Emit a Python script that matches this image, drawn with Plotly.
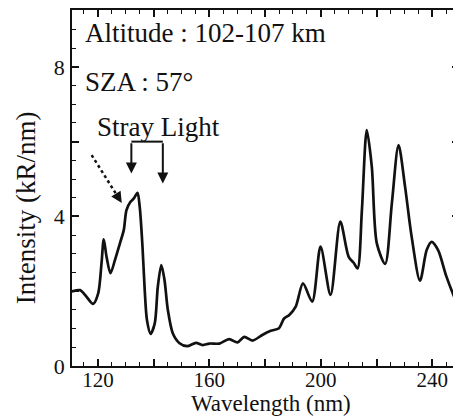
import plotly.graph_objects as go

# Spectrum values
wavelength = [110.6, 113.6, 115.4, 118.3, 120.1, 121.3, 122.1, 123.1, 124.5, 126.1,
              127.9, 129.3, 130.25, 131.7, 132.9, 134.2, 135.0, 136.0, 136.8, 137.6,
              138.9, 140.4, 141.5, 142.75, 143.9, 145.1, 146.9, 149.3, 152.0, 155.2,
              157.6, 160.0, 163.6, 167.1, 170.1, 172.5, 175.5, 179.0, 182.0, 185.0,
              186.8, 188.6, 191.0, 193.6, 196.9, 199.9, 203.5, 207.0, 210.0, 211.8,
              213.2, 214.75, 216.5, 218.3, 220.1, 223.1, 225.5, 227.9, 230.25, 232.6,
              235.6, 238.0, 239.75, 242.1, 245.1, 248.7, 249.6]
intensity = [1.99, 2.03, 1.90, 1.66, 1.94, 2.75, 3.39, 2.92, 2.48, 2.83,
             3.28, 3.64, 4.17, 4.39, 4.48, 4.63, 4.26, 3.19, 2.03, 1.23,
             0.86, 1.14, 2.12, 2.70, 2.30, 1.50, 0.87, 0.61, 0.53, 0.62,
             0.56, 0.60, 0.60, 0.72, 0.63, 0.78, 0.68, 0.83, 0.94, 1.01,
             1.27, 1.36, 1.59, 2.21, 1.72, 3.19, 1.90, 3.86, 2.92, 2.76,
             2.61, 4.17, 6.31, 5.33, 3.28, 2.73, 4.35, 5.91, 4.79, 3.46,
             2.28, 3.10, 3.32, 3.10, 2.39, 1.72, 1.62]

x_tickvals = [120, 140, 160, 180, 200, 220, 240]
x_ticktext = ["120", "", "160", "", "200", "", "240"]
y_tickvals = [0, 2, 4, 6, 8]
y_ticktext = ["0", "", "4", "", "8"]

FONT = "Liberation Serif"
INK = "#111111"

fig = go.Figure()
fig.add_trace(go.Scatter(
    x=wavelength, y=intensity, mode="lines",
    line=dict(color=INK, width=2.7, shape="spline", smoothing=0.8),
    hoverinfo="skip", showlegend=False,
))

axis_common = dict(
    showline=True, linecolor=INK, linewidth=1.5, mirror="ticks",
    ticks="inside", ticklen=7, tickwidth=1.5, tickcolor=INK,
    showgrid=False, zeroline=False,
)

fig.update_xaxes(range=[110.7, 249.6], tickmode="array", tickvals=x_tickvals,
                 ticktext=x_ticktext, ticklabelstandoff=-6,
                 tickfont=dict(family=FONT, size=21, color=INK),
                 minor=dict(dtick=5, ticks="inside", ticklen=4, tickwidth=1.2, tickcolor=INK),
                 **axis_common)
fig.update_yaxes(range=[0, 9.52], tickmode="array", tickvals=y_tickvals,
                 ticktext=y_ticktext, ticklabelstandoff=1,
                 tickfont=dict(family=FONT, size=22, color=INK),
                 minor=dict(dtick=0.5, ticks="inside", ticklen=4, tickwidth=1.2, tickcolor=INK),
                 **axis_common)

text_font = dict(family=FONT, size=27, color=INK)
annotations = [
    dict(text="Altitude : 102-107 km", xref="paper", yref="paper", x=0.028, y=0.934,
         xanchor="left", yanchor="middle", showarrow=False, font=text_font),
    dict(text="SZA : 57°", xref="paper", yref="paper", x=0.028, y=0.798,
         xanchor="left", yanchor="middle", showarrow=False, font=text_font),
    dict(text="Stray Light", xref="paper", yref="paper", x=0.059, y=0.671,
         xanchor="left", yanchor="middle", showarrow=False, font=text_font),
    dict(text="Wavelength (nm)", xref="paper", yref="paper", x=0.514, y=-0.104,
         xanchor="center", yanchor="middle", showarrow=False,
         font=dict(family=FONT, size=23, color=INK)),
    dict(text="Intensity (kR/nm)", xref="paper", yref="paper", x=-0.118, y=0.444,
         xanchor="center", yanchor="middle", showarrow=False, textangle=-90,
         font=dict(family=FONT, size=27, color=INK)),
    # bracket arrows
    dict(text="", x=132.0, y=5.15, ax=132.0, ay=6.0, xref="x", yref="y",
         axref="x", ayref="y", showarrow=True, arrowhead=2, arrowwidth=2,
         arrowsize=1.1, arrowcolor=INK),
    dict(text="", x=143.3, y=4.88, ax=143.3, ay=6.0, xref="x", yref="y",
         axref="x", ayref="y", showarrow=True, arrowhead=2, arrowwidth=2,
         arrowsize=1.1, arrowcolor=INK),
    # dotted arrow head
    dict(text="", x=128.57, y=4.36, ax=127.43, ay=4.495, xref="x", yref="y",
         axref="x", ayref="y", showarrow=True, arrowhead=2, arrowwidth=2,
         arrowsize=1.1, arrowcolor=INK),
]

shapes = [
    dict(type="line", xref="x", yref="y", x0=132.0, y0=6.0, x1=143.3, y1=6.0,
         line=dict(color=INK, width=2)),
    dict(type="line", xref="x", yref="y", x0=117.75, y0=5.64, x1=127.43, y1=4.495,
         line=dict(color=INK, width=2.5, dash="dot")),
]

# The page body has an 8px default margin, so the figure is sized to fit the window.
fig.update_layout(
    width=453, height=408,
    margin=dict(l=64, r=0, t=2, b=50),
    paper_bgcolor="white", plot_bgcolor="white",
    annotations=annotations, shapes=shapes,
    font=dict(family=FONT, color=INK),
)

fig.write_html("out.html")
